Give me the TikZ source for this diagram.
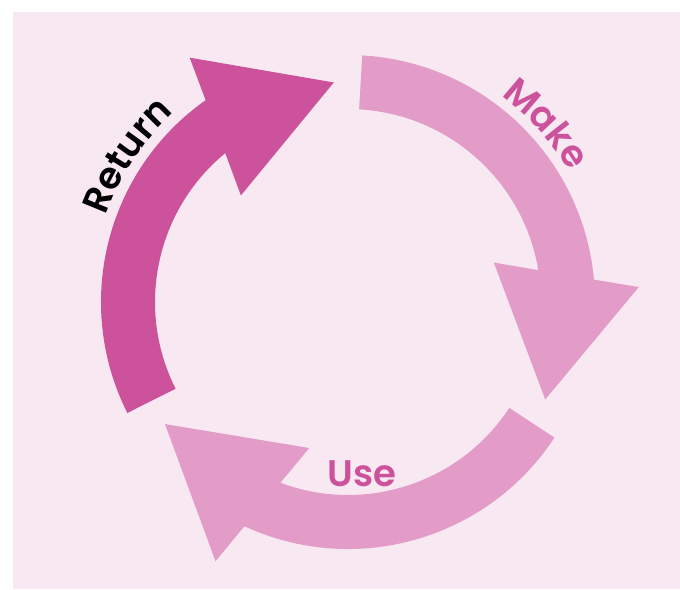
\documentclass[tikz,border=0pt]{standalone}
\usepackage{fontspec}
\setmainfont{Poppins}[BoldFont={* SemiBold}]
\usetikzlibrary{calc,decorations.text}
\definecolor{bgpink}{HTML}{F7E8F2}
\definecolor{darkpink}{HTML}{CC529B}
\definecolor{lightpink}{HTML}{E39CC7}
\newcommand{\cyclearrow}[5]{% name, tail angle, base angle, tip angle, colour
  \coordinate (#1-b) at ({#3}:220);
  \coordinate (#1-t) at ({#4}:220);
  \coordinate (#1-w1) at ($(#1-b)!73.5pt!90:(#1-t)$);
  \coordinate (#1-w2) at ($(#1-b)!73.5pt!-90:(#1-t)$);
  \fill[#5] ({#2}:247) arc[start angle={#2}, end angle={#3-1.9}, radius=247]
    -- (#1-w1) -- (#1-t) -- (#1-w2) -- ({#3+2.4}:193)
    arc[start angle={#3+2.4}, end angle={#2}, radius=193] -- cycle;
}
\begin{document}
\begin{tikzpicture}[x=1pt,y=1pt,
  curvetext/.style={decorate, decoration={text along path, text align=center, text color=#1}}]
\useasboundingbox (-348,-287) rectangle (332,302);
\fill[white] (-348,-287) rectangle (332,302);
\fill[bgpink] (-335,-287) rectangle (332,290);
\coordinate (c) at (0,0);
\cyclearrow{ret}{206.7}{127.1}{93.7}{darkpink}
\cyclearrow{mk}{86.7}{7.1}{-26.3}{lightpink}
\cyclearrow{us}{-33.3}{-112.9}{-146.3}{lightpink}
\path[curvetext=black, decoration={text={|\fontsize{37}{37}\selectfont\bfseries|Return}}]
  (181.5:257) arc[start angle=181.5, end angle=111.5, radius=257];
\path[curvetext=darkpink, decoration={text={|\fontsize{37}{37}\selectfont\bfseries|Make}}]
  (77:257) arc[start angle=77, end angle=7, radius=257];
\node[text=darkpink, font=\fontsize{37}{37}\selectfont\bfseries, anchor=base] (use) at (14,-184) {Use};
\end{tikzpicture}
\end{document}
